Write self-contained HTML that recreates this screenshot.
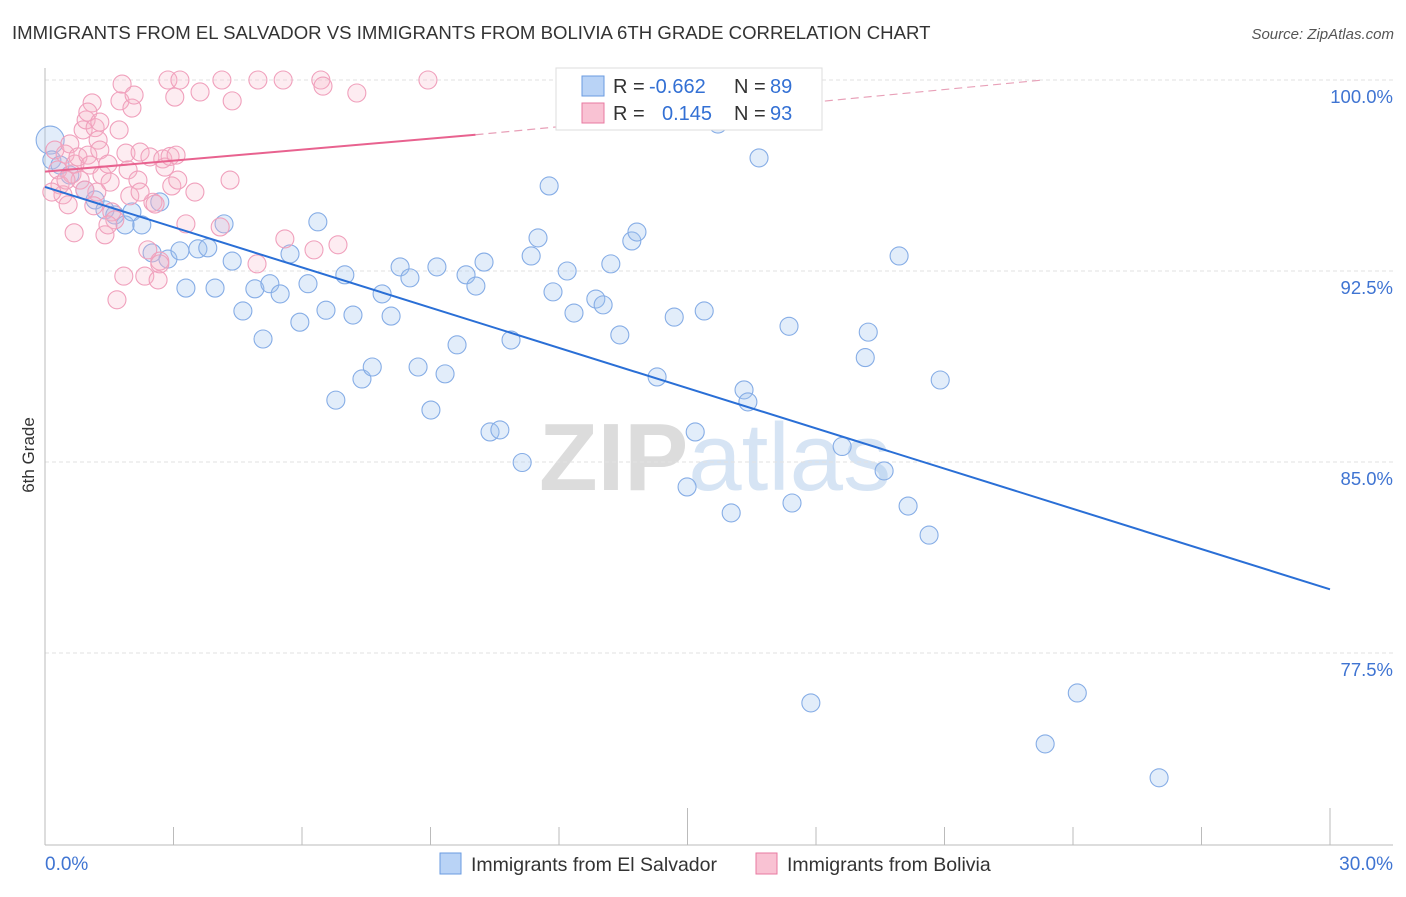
<!DOCTYPE html>
<html><head><meta charset="utf-8"><style>
body{margin:0;background:#fff;font-family:"Liberation Sans",sans-serif;}
svg text{font-family:"Liberation Sans",sans-serif;}
</style></head><body>
<svg id="c" width="1406" height="892" xmlns="http://www.w3.org/2000/svg">
<text x="12" y="39" font-size="18.6" fill="#333">IMMIGRANTS FROM EL SALVADOR VS IMMIGRANTS FROM BOLIVIA 6TH GRADE CORRELATION CHART</text>
<text x="1394" y="39" font-size="15" fill="#555" font-style="italic" text-anchor="end">Source: ZipAtlas.com</text>
<text x="715" y="490" font-size="96" fill="#e4e4e4" text-anchor="middle" font-family="Liberation Serif"><tspan font-weight="bold" fill="#dcdcdc">ZIP</tspan><tspan fill="#d6e4f4">atlas</tspan></text>
<text transform="translate(34,455) rotate(-90)" font-size="17" fill="#333" text-anchor="middle">6th Grade</text>
<g id="grid"></g><g id="axes"></g><g id="pts"></g><g id="lines"></g>
<g>
<rect x="556" y="68" width="266" height="62" fill="#fff" stroke="#ddd"/>
<rect x="582" y="76" width="22" height="20" fill="#b9d3f6" stroke="#6a9be0"/>
<text x="613" y="93" font-size="20" fill="#333">R = <tspan x="649" fill="#3370d4">-0.662</tspan><tspan x="734">N = </tspan><tspan x="770" fill="#3370d4">89</tspan></text>
<rect x="582" y="103" width="22" height="20" fill="#f9c2d3" stroke="#e87aa0"/>
<text x="613" y="120" font-size="20" fill="#333">R = <tspan x="662" fill="#3370d4">0.145</tspan><tspan x="734">N = </tspan><tspan x="770" fill="#3370d4">93</tspan></text>
</g>
<g>
<rect x="440" y="853" width="21" height="21" fill="#b9d3f6" stroke="#6a9be0"/>
<text x="471" y="871" font-size="19.5" fill="#333">Immigrants from El Salvador</text>
<rect x="756" y="853" width="21" height="21" fill="#f9c2d3" stroke="#e87aa0"/>
<text x="787" y="871" font-size="19.5" fill="#333">Immigrants from Bolivia</text>
</g>
</svg>
<script>
const yTicks=[100,92.5,85,77.5];
const yTickLabels=["100.0%","92.5%","85.0%","77.5%"];
const xEndLabels=["0.0%","30.0%"];
const blueX=[0.12,0.16,0.35,0.58,0.93,1.17,1.4,1.63,1.87,2.03,2.26,2.68,2.5,2.87,3.15,3.29,3.57,3.8,3.97,4.18,4.37,4.62,4.9,5.09,5.25,5.49,5.72,5.95,6.14,6.37,6.56,6.79,7.0,7.19,7.4,7.64,7.87,8.08,8.29,8.52,8.71,9.01,9.15,9.34,9.62,9.83,10.06,10.25,10.39,10.62,10.88,11.14,11.35,11.51,11.77,11.86,12.19,12.35,12.86,13.03,13.21,13.42,13.7,13.82,14.29,14.69,14.99,15.18,15.39,15.71,16.02,16.32,16.41,16.67,17.37,17.44,18.61,19.15,19.22,19.59,19.94,20.15,20.64,20.9,17.88,23.35,24.1,26.01,12.63];
const blueY=[97.64,96.86,96.66,96.27,95.68,95.29,94.9,94.7,94.31,94.82,94.31,95.21,93.21,92.97,93.29,91.83,93.37,93.41,91.83,94.35,92.89,90.93,91.8,89.83,92.0,91.6,93.17,90.49,92.0,94.43,90.96,87.43,92.35,90.77,88.26,88.73,91.6,90.73,92.66,92.23,88.73,87.04,92.66,88.46,89.6,92.35,91.91,92.85,86.18,86.26,89.79,84.98,93.09,93.8,95.84,91.68,92.5,90.85,91.4,91.17,92.78,89.99,93.68,94.03,88.34,90.69,84.02,86.18,90.93,98.27,83.0,87.83,87.36,96.94,90.33,83.39,85.61,89.1,90.1,84.65,93.09,83.27,82.13,88.22,75.54,73.93,75.93,72.6,99.62];
const pinkX=[0.23,0.3,0.35,0.42,0.47,0.54,0.58,0.63,0.7,0.77,0.82,0.89,0.96,1.0,1.05,1.1,1.17,1.24,1.28,1.33,1.4,1.47,1.52,1.56,1.63,1.68,1.73,1.75,1.8,1.84,1.89,1.94,1.98,2.03,2.08,2.17,2.22,2.33,2.4,2.45,2.52,2.57,2.64,2.68,2.75,2.8,2.87,2.92,2.96,3.03,3.06,3.1,3.15,3.29,3.5,3.62,4.09,4.13,4.32,4.37,4.95,4.97,5.56,5.6,6.28,6.44,6.49,6.84,7.28,8.94,2.68,1.21,1.0,1.28,0.16,0.49,0.93,1.47,2.22,1.14,0.68];
const pinkY=[97.25,96.47,95.88,95.49,97.09,95.1,97.49,96.31,96.7,96.98,96.07,98.04,98.43,97.05,96.66,99.1,98.13,97.64,97.25,96.27,93.92,96.7,95.99,94.82,94.51,91.37,98.04,99.18,99.84,92.3,97.13,96.47,95.45,98.9,99.41,96.07,97.17,92.3,93.33,96.98,95.2,95.13,92.15,92.89,96.9,96.58,100.0,97.0,95.84,99.33,97.05,96.07,100.0,94.35,95.6,99.53,94.23,100.0,96.07,99.18,92.78,100.0,100.0,93.76,93.33,100.0,99.76,93.53,99.49,100.0,92.78,95.6,98.74,98.35,95.6,96.07,95.68,94.31,95.6,95.06,94.0];
const trendBlue=[[0,95.8],[30,80.0]];
const trendPink=[[0,96.4],[10.05,97.85]];
const trendPinkDash=[[10.05,97.85],[23.3,100.0]];

const X0=45,X1=1330,xs=v=>X0+(X1-X0)*v/30;
const ys=v=>80+(100-v)*(191/7.5);
const NS="http://www.w3.org/2000/svg";
function mk(tag,parent,attrs){const e=document.createElementNS(NS,tag);for(const k in attrs)e.setAttribute(k,attrs[k]);document.getElementById(parent).appendChild(e);return e;}
yTicks.forEach((t,i)=>{
 const l=mk('line','grid',{x1:45,x2:1393,y1:ys(t),y2:ys(t),stroke:'#e2e2e2','stroke-dasharray':'4,3'});
 
 
 const tx=mk('text','grid',{x:1393,y:ys(t)+23,'font-size':18.5,fill:'#3f74d2','text-anchor':'end'});
 tx.textContent=yTickLabels[i];
 
 
});
const ax=mk('line','axes',{x1:45,x2:1393,y1:845,y2:845,stroke:'#bbb'});


const ay=mk('line','axes',{x1:45,x2:45,y1:68,y2:845,stroke:'#bbb'});


for(let k=1;k<=10;k++){const x=xs(k*3);const t=mk('line','axes',{x1:x,x2:x,y1:(k==5||k==10)?808:827,y2:845,stroke:'#bbb'});
 
 }
[[0,'start',45],[30,'end',1393]].forEach((d,i)=>{const t=mk('text','axes',{x:d[2],y:870,'font-size':19,fill:'#3f74d2','text-anchor':d[1]});t.textContent=xEndLabels[i];
 
 });
blueX.forEach((v,i)=>{const c=mk('circle','pts',{cx:xs(v),cy:ys(blueY[i]),r:i==0?14:9,fill:'rgba(160,195,240,0.3)',stroke:'#86ade6','stroke-width':1.1});
 
 });
pinkX.forEach((v,i)=>{const c=mk('circle','pts',{cx:xs(v),cy:ys(pinkY[i]),r:9,fill:'rgba(248,180,200,0.25)',stroke:'#f0a0bc','stroke-width':1.1});
 
 });
const lb=mk('line','lines',{x1:xs(trendBlue[0][0]),y1:ys(trendBlue[0][1]),x2:xs(trendBlue[1][0]),y2:ys(trendBlue[1][1]),stroke:'#2a6fd6','stroke-width':2});


const lp=mk('line','lines',{x1:xs(trendPink[0][0]),y1:ys(trendPink[0][1]),x2:xs(trendPink[1][0]),y2:ys(trendPink[1][1]),stroke:'#e8628f','stroke-width':2});


const ld=mk('line','lines',{x1:xs(trendPinkDash[0][0]),y1:ys(trendPinkDash[0][1]),x2:xs(trendPinkDash[1][0]),y2:ys(trendPinkDash[1][1]),stroke:'#e8a0b8','stroke-width':1.2,'stroke-dasharray':'8,5'});


</script>
</body></html>
